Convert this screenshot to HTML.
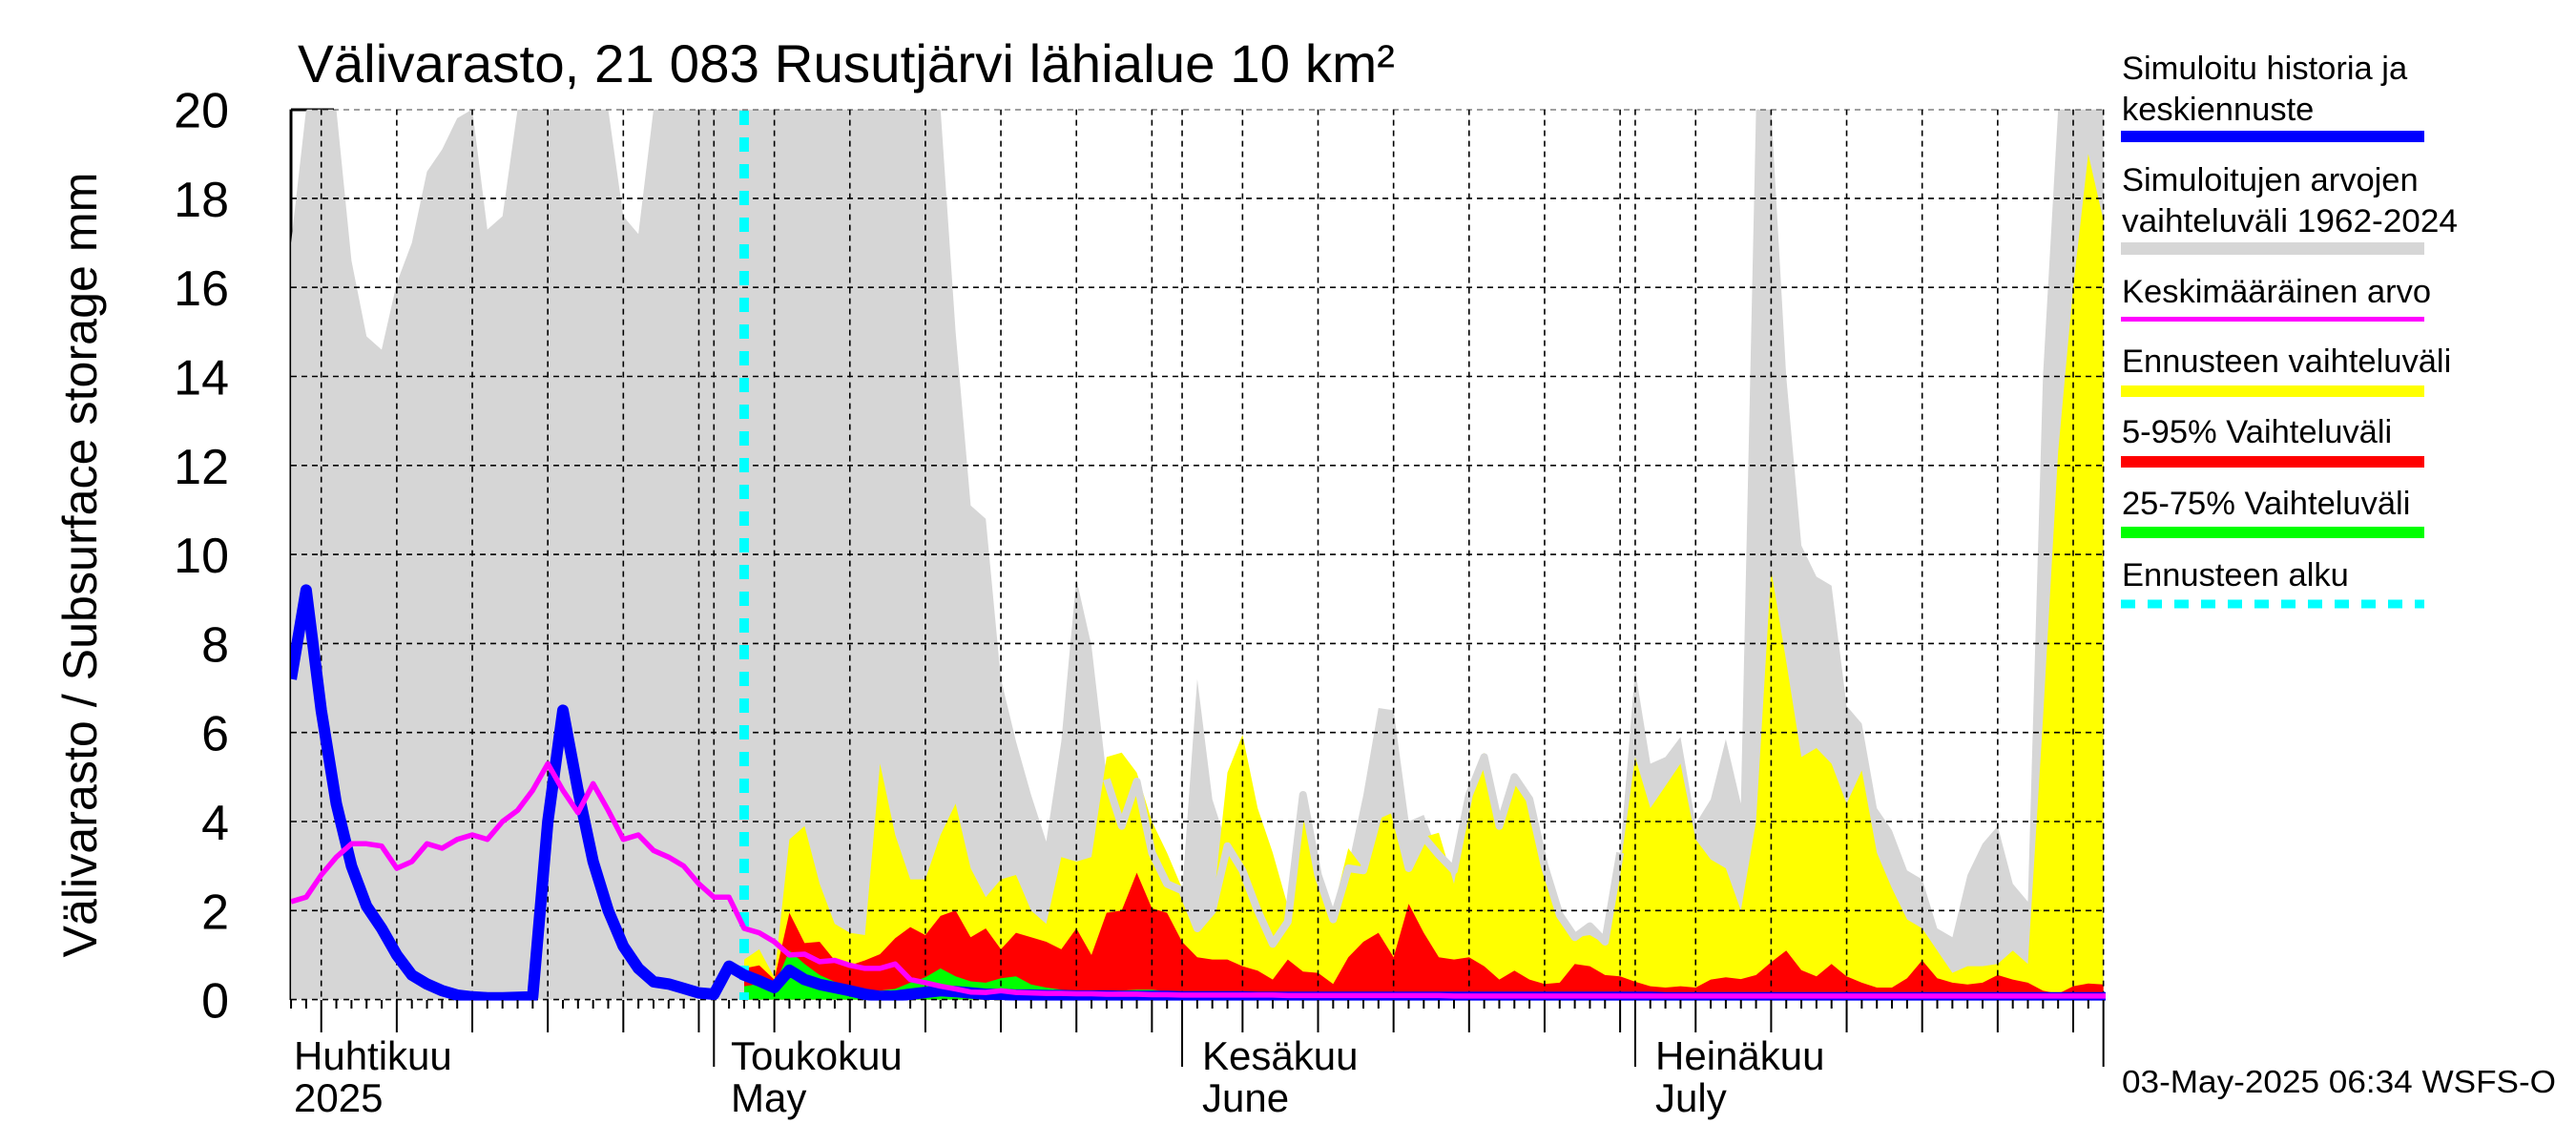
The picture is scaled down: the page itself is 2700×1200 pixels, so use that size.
<!DOCTYPE html>
<html><head><meta charset="utf-8"><title>Välivarasto</title>
<style>html,body{margin:0;padding:0;background:#fff}svg{display:block}text{font-family:"Liberation Sans",Arial,sans-serif;fill:#000}</style>
</head><body>
<svg id="chart" xmlns="http://www.w3.org/2000/svg" width="2700" height="1200" viewBox="0 0 2700 1200">
<defs><clipPath id="pc"><rect x="305" y="114.6" width="1902" height="934"/></clipPath></defs>
<text x="312" y="86" font-size="56" textLength="1150" lengthAdjust="spacingAndGlyphs">Välivarasto, 21 083 Rusutjärvi lähialue 10 km²</text>
<text transform="translate(101,592) rotate(-90)" text-anchor="middle" font-size="50" textLength="823" lengthAdjust="spacingAndGlyphs">Välivarasto / Subsurface storage  mm</text>
<line x1="305" y1="114.6" x2="305" y2="1048" stroke="#000" stroke-width="3"/>
<line x1="305" y1="115" x2="350" y2="115" stroke="#000" stroke-width="3"/>
<g id="plot" clip-path="url(#pc)"></g>
<g id="axes"></g>
<g font-size="42">
<text x="308" y="1121">Huhtikuu</text>
<text x="308" y="1165">2025</text>
<text x="766" y="1121">Toukokuu</text>
<text x="766" y="1165">May</text>
<text x="1260" y="1121">Kesäkuu</text>
<text x="1260" y="1165">June</text>
<text x="1735" y="1121">Heinäkuu</text>
<text x="1735" y="1165">July</text>
</g>
<g font-size="34.5">
<text x="2224" y="83">Simuloitu historia ja</text>
<text x="2224" y="126">keskiennuste</text>
<rect x="2223" y="137" width="318" height="12" fill="#0000ff"/>
<text x="2224" y="200">Simuloitujen arvojen</text>
<text x="2224" y="243" textLength="352" lengthAdjust="spacingAndGlyphs">vaihteluväli 1962-2024</text>
<rect x="2223" y="254" width="318" height="13" fill="#d6d6d6"/>
<text x="2224" y="317">Keskimääräinen arvo</text>
<rect x="2223" y="332" width="318" height="5" fill="#ff00ff"/>
<text x="2224" y="390">Ennusteen vaihteluväli</text>
<rect x="2223" y="404" width="318" height="12" fill="#ffff00"/>
<text x="2224" y="464">5-95% Vaihteluväli</text>
<rect x="2223" y="478" width="318" height="12" fill="#ff0000"/>
<text x="2224" y="539">25-75% Vaihteluväli</text>
<rect x="2223" y="552" width="318" height="12" fill="#00ff00"/>
<text x="2224" y="614">Ennusteen alku</text>
<line x1="2223" y1="633" x2="2541" y2="633" stroke="#00ffff" stroke-width="9" stroke-dasharray="15,13"/>
</g>
<text x="2224" y="1145" font-size="33" textLength="455" lengthAdjust="spacingAndGlyphs">03-May-2025 06:34 WSFS-O</text>
</svg>
<script>
// day index: 0 = May 1; full series start at day -28 (Apr 3), forecast at day 2
const histStart = -28;
const fcStart = 2;
const yTicks = [0,2,4,6,8,10,12,14,16,18,20];
const forecastStartDay = 2;
const grayMax = [17.0,20,20,20,16.6,14.9,14.6,16.1,17.0,18.6,19.1,19.8,20,17.3,17.6,20,20,20,20,20,20,20,17.6,17.2,
20,20,20,20,20,20,20,20,20,20,20,20,20,20,20,20,20,20,20,20,
15,11.1,10.8,7.2,5.8,4.6,3.55,5.8,9.45,7.95,5.0,3.9,4.9,3.3,2.6,2.4,7.2,4.5,3.45,2.9,2.0,1.25,1.75,4.6,2.8,1.8,3.0,4.6,6.55,6.5,4.0,4.15,3.25,2.9,4.6,5.45,3.9,5.0,4.5,3.0,1.9,1.4,1.65,1.3,3.3,7.4,
5.3,5.45,5.9,3.95,4.5,5.85,4.4,20,20,14,10.2,9.5,9.3,6.6,6.2,4.3,3.8,2.9,2.7,1.6,1.4,2.8,3.5,3.9,2.6,2.2,14,20,20,20,20];
const grayLineStart = 26;
const grayLine = [4.95,3.9,4.9,3.3,2.6,2.45,1.6,2.0,3.45,2.9,2.0,1.25,1.75,4.6,2.8,1.8,2.95,2.9,4.15,4.3,2.95,3.65,3.25,2.9,4.6,5.45,3.9,5.0,4.5,3.0,1.9,1.4,1.65,1.3,3.3];
const yellowMax = [0.9,1.13,0.5,3.6,3.9,2.6,1.7,1.5,1.45,5.3,3.7,2.7,2.7,3.7,4.4,2.95,2.3,2.7,2.8,2.0,1.7,3.2,3.1,3.2,5.45,5.55,5.1,4.0,3.3,
2.5,1.6,1.95,5.1,5.95,4.3,3.3,2.1,4.2,2.8,2.0,3.4,2.95,4.05,4.3,2.95,3.65,3.75,2.6,4.5,5.55,3.9,4.9,4.5,3.1,1.9,1.4,1.45,1.25,2.95,5.45,
4.3,4.8,5.3,3.6,3.15,2.95,2.0,4.0,9.65,7.6,5.45,5.65,5.3,4.4,5.15,3.3,2.5,1.8,1.6,1.1,0.6,0.75,0.75,0.8,1.1,0.8,6.3,12.3,16.0,19.0,17.5];
const red95 = [0.7,0.77,0.45,1.95,1.27,1.3,0.88,0.77,0.88,1.02,1.38,1.63,1.45,1.88,2.0,1.4,1.6,1.13,1.5,1.4,1.3,1.13,1.6,1.0,1.95,2.0,2.85,2.05,1.95,
1.3,0.95,0.9,0.9,0.75,0.65,0.45,0.9,0.63,0.6,0.35,0.95,1.3,1.5,0.95,2.15,1.5,0.95,0.9,0.95,0.75,0.45,0.65,0.45,0.35,0.38,0.8,0.75,0.55,0.52,0.4,
0.3,0.27,0.3,0.27,0.45,0.5,0.46,0.55,0.84,1.1,0.66,0.52,0.8,0.52,0.38,0.27,0.27,0.48,0.88,0.48,0.38,0.34,0.38,0.55,0.45,0.38,0.2,0.13,0.3,0.36,0.34];
const green75 = [0.3,0.35,0.3,1.1,0.8,0.55,0.4,0.3,0.2,0.2,0.24,0.38,0.5,0.7,0.52,0.41,0.38,0.48,0.52,0.34,0.27,0.22,0.2,0.2,0.2,0.2,0.22,0.22,0.18,
0.12,0.15,0.12,0.12,0.12,0.12,0.12,0.12,0.12,0.12,0.12,0.12,0.12,0.12,0.12,0.15,0.12,0.12,0.12,0.12,0.12,0.12,0.12,0.12,0.12,0.12,0.12,0.12,0.12,0.12,0.12,
0.1,0.1,0.1,0.1,0.1,0.1,0.1,0.1,0.1,0.1,0.1,0.1,0.1,0.1,0.1,0.1,0.1,0.1,0.1,0.1,0.1,0.1,0.1,0.1,0.1,0.1,0.1,0.1,0.1,0.1,0.1];
const blueHist = [7.2,9.2,6.5,4.4,3.0,2.1,1.6,1.0,0.55,0.35,0.2,0.1,0.06,0.04,0.04,0.05,0.06,4.0,6.5,4.7,3.1,2.0,1.2,0.7,0.4,0.35,0.25,0.15,
0.12,0.75,0.55,0.42,0.27,0.66,0.45,0.34,0.27,0.2,0.12,0.07,0.08,0.12,0.16,0.2,0.18,0.15,0.12,0.12,0.1,0.1,0.09,0.09,0.08,0.08,0.08,0.07,0.07,0.07,0.07,0.06,0.06,
0.06,0.06,0.06,0.05,0.05,0.05,0.05,0.05,0.05,0.05,0.05,0.05,0.05,0.05,0.05,0.05,0.05,0.05,0.05,0.05,0.05,0.05,0.05,0.05,0.05,0.05,0.05,0.05,0.05,0.05,
0.04,0.04,0.04,0.04,0.04,0.04,0.04,0.04,0.04,0.04,0.04,0.04,0.04,0.04,0.04,0.04,0.04,0.04,0.04,0.04,0.04,0.04,0.04,0.04,0.04,0.04,0.04,0.04,0.04,0.04,0.04];
const meanVal = [2.2,2.3,2.8,3.2,3.5,3.5,3.45,2.95,3.1,3.5,3.4,3.6,3.7,3.6,4.0,4.25,4.7,5.3,4.7,4.2,4.85,4.25,3.6,3.7,3.35,3.2,3.0,2.6,
2.3,2.3,1.6,1.5,1.3,1.0,1.02,0.85,0.88,0.77,0.7,0.7,0.8,0.45,0.38,0.3,0.24,0.17,0.16,0.2,0.16,0.15,0.14,0.14,0.13,0.13,0.12,0.12,0.12,0.11,0.11,0.1,0.1,
0.1,0.1,0.1,0.1,0.1,0.09,0.09,0.09,0.09,0.09,0.09,0.09,0.09,0.09,0.09,0.09,0.08,0.08,0.08,0.08,0.08,0.08,0.08,0.08,0.08,0.08,0.08,0.08,0.08,0.08,
0.08,0.08,0.08,0.08,0.08,0.08,0.08,0.08,0.08,0.08,0.08,0.08,0.08,0.08,0.08,0.08,0.08,0.08,0.08,0.08,0.08,0.08,0.08,0.08,0.08,0.08,0.08,0.08,0.08,0.08,0.08];

const NS = 'http://www.w3.org/2000/svg';
function xs(d){ return 748.3 + 15.83*d; }
function ys(v){ return 1047.6 - 46.65*Math.min(v,20.3); }
function mk(tag, attrs, parent){ const e=document.createElementNS(NS,tag); for(const k in attrs) e.setAttribute(k,attrs[k]); parent.appendChild(e); return e; }
function areaPath(arr, start){ let p='M'+xs(start)+','+ys(0); arr.forEach((v,i)=>{ p+=' L'+xs(start+i).toFixed(1)+','+ys(v).toFixed(1); }); p+=' L'+xs(start+arr.length-1)+','+ys(0)+' Z'; return p; }
function linePath(arr, start){ return arr.map((v,i)=>(i?'L':'M')+xs(start+i).toFixed(1)+','+ys(v).toFixed(1)).join(' '); }
const plot = document.getElementById('plot');
const axes = document.getElementById('axes');

let el;
el = mk('path',{d:areaPath(grayMax,histStart),fill:'#d6d6d6'},plot);


el = mk('path',{d:areaPath(yellowMax,fcStart),fill:'#ffff00'},plot);


el = mk('path',{d:areaPath(red95,fcStart),fill:'#ff0000'},plot);


el = mk('path',{d:areaPath(green75,fcStart),fill:'#00ff00'},plot);


el = mk('path',{d:linePath(grayLine,grayLineStart),fill:'none',stroke:'#d6d6d6','stroke-width':8,'stroke-linejoin':'round'},plot);



// grid
const gridDays = [];
for(let d=-28; d<=92; d++){
  const date = new Date(2025,4,1+d);
  const dm = date.getDate();
  if(dm%5===0 || dm===1) gridDays.push(d);
}
gridDays.forEach(d=>{
  el = mk('line',{x1:xs(d),y1:114.6,x2:xs(d),y2:1048,stroke:'#000','stroke-width':1.6,'stroke-dasharray':'6,5'},plot);
  
  
});
yTicks.forEach(v=>{
  el = mk('line',{x1:305,y1:ys(v),x2:2207,y2:ys(v),stroke:'#000','stroke-width':1.6,'stroke-dasharray':'6,5'},plot);
  
  
  el = mk('text',{x:240,y:ys(v)+19,'text-anchor':'end','font-size':52},axes);
  el.textContent = String(v);
  
  
});
// x ticks
for(let d=-28; d<=92; d++){
  const date = new Date(2025,4,1+d);
  const dm = date.getDate();
  const len = dm===1 ? 70 : (dm%5===0 ? 34 : 9);
  el = mk('line',{x1:xs(d),y1:1048,x2:xs(d),y2:1048+len,stroke:'#000','stroke-width':2},axes);
  
  
}

el = mk('line',{x1:xs(forecastStartDay),y1:116,x2:xs(forecastStartDay),y2:1048,stroke:'#00ffff','stroke-width':10,'stroke-dasharray':'15,13'},plot);


el = mk('path',{d:linePath(blueHist,histStart),fill:'none',stroke:'#0000ff','stroke-width':12,'stroke-linejoin':'round'},plot);


el = mk('path',{d:linePath(meanVal,histStart),fill:'none',stroke:'#ff00ff','stroke-width':5.5,'stroke-linejoin':'round'},plot);


</script>
</body></html>
